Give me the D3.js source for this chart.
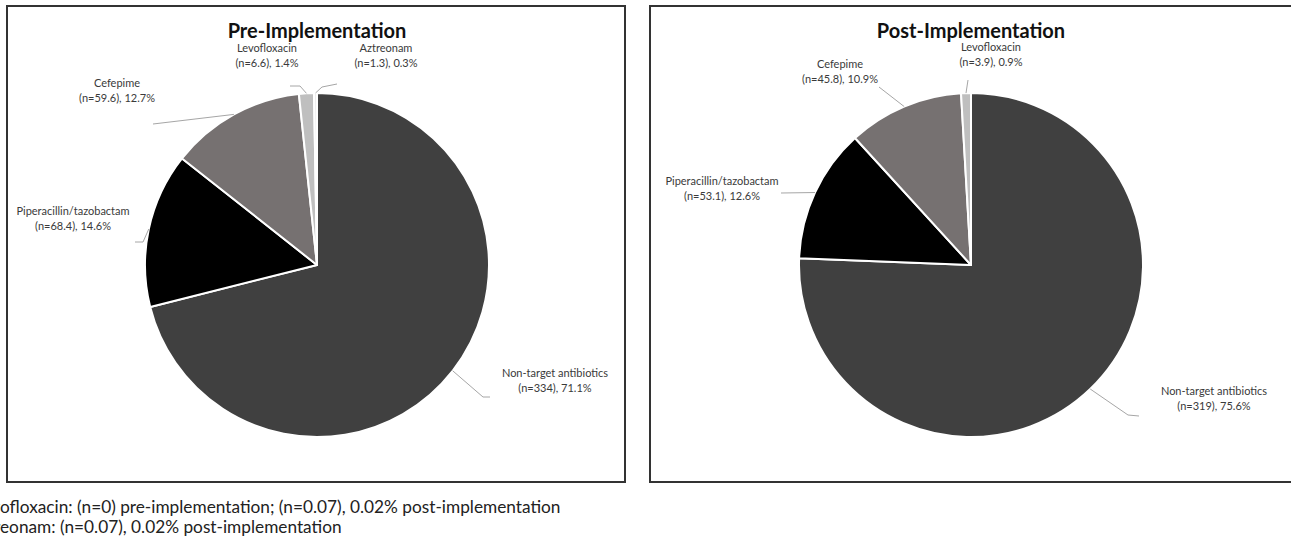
<!DOCTYPE html>
<html>
<head>
<meta charset="utf-8">
<script src="https://cdn.jsdelivr.net/npm/d3@7"></script>
<style>
  body { margin: 0; background: #fff; }
  svg { display: block; font-family: Lato, "Open Sans", sans-serif; }
</style>
</head>
<body>
<div id="chart"></div>
<script>
// data
var drugs = ["Non-target antibiotics", "Piperacillin/tazobactam", "Cefepime", "Levofloxacin", "Aztreonam"];
var preCounts = [334, 68.4, 59.6, 6.6, 1.3];
var prePct = [71.1, 14.6, 12.7, 1.4, 0.3];
var postCounts = [319, 53.1, 45.8, 3.9];
var postPct = [75.6, 12.6, 10.9, 0.9];
var titles = ["Pre-Implementation", "Post-Implementation"];
var footnotes = [
  "Levofloxacin: (n=0) pre-implementation; (n=0.07), 0.02% post-implementation",
  "Aztreonam: (n=0.07), 0.02% post-implementation"
];

var colors = ["#404040", "#000000", "#767171", "#bfbfbf", "#ececec"];

var width = 1291, height = 542;
var radius = 172;

var svg = d3.select("#chart").append("svg")
  .attr("width", width)
  .attr("height", height);

// label placement (relative to pie center): label center + leader polyline end points
var panels = [
  {
    title: titles[0], box: [7, 6, 618, 476], cx: 317, cy: 265,
    counts: preCounts, pct: prePct,
    labels: [
      { pos: [238, 115], leader: [[166, 132], [173, 132]] },
      { pos: [-244, -47], leader: [[-174, -23], [-182, -23]] },
      { pos: [-200, -175], leader: [[-164, -141]] },
      { pos: [-50, -210], leader: [[-17, -179], [-27, -179]] },
      { pos: [69, -210], leader: [[5, -178], [20, -181]] }
    ]
  },
  {
    title: titles[1], box: [650, 6, 660, 476], cx: 971, cy: 265,
    counts: postCounts, pct: postPct,
    labels: [
      { pos: [243, 133], leader: [[157, 150], [168, 151]] },
      { pos: [-249, -77], leader: [[-190, -72]] },
      { pos: [-131, -194], leader: [[-92, -178]] },
      { pos: [20, -211], leader: [[-3, -185]] }
    ]
  }
];

var pie = d3.pie().sort(null).value(function(d) { return d; });
var arc = d3.arc().innerRadius(0).outerRadius(radius);
var edge = d3.arc().innerRadius(radius).outerRadius(radius);

panels.forEach(function(p) {
  // khung
  svg.append("rect")
    .attr("x", p.box[0]).attr("y", p.box[1])
    .attr("width", p.box[2]).attr("height", p.box[3])
    .attr("fill", "none")
    .attr("stroke", "#333")
    .attr("stroke-width", 2);

  svg.append("text")
    .attr("x", p.cx).attr("y", 38)
    .attr("text-anchor", "middle")
    .style("font-size", "20px")
    .style("font-weight", "bold")
    .style("fill", "#111")
    .text(p.title);

  var g = svg.append("g")
    .attr("transform", "translate(" + p.cx + "," + p.cy + ")");

  var arcs = pie(p.counts);

  g.selectAll("path.slice")
    .data(arcs)
    .enter().append("path")
    .attr("class", "slice")
    .attr("d", arc)
    .attr("fill", function(d, i) { return colors[i]; })
    .attr("stroke", "#fff")
    .attr("stroke-width", 2)
    .attr("stroke-linejoin", "round");

  // leader lines
  g.selectAll("path.leader")
    .data(arcs)
    .enter().append("path")
    .attr("class", "leader")
    .attr("d", function(d, i) {
      var pts = [edge.centroid(d)].concat(p.labels[i].leader);
      return d3.line()(pts);
    })
    .attr("fill", "none")
    .attr("stroke", "#a6a6a6")
    .attr("stroke-width", 1);

  // labels
  var lab = g.selectAll("text.lab")
    .data(arcs)
    .enter().append("text")
    .attr("class", "lab")
    .attr("text-anchor", "middle")
    .attr("transform", function(d, i) {
      return "translate(" + p.labels[i].pos + ")";
    })
    .style("font-size", "11px")
    .style("fill", "#3a3a3a");

  lab.append("tspan")
    .attr("x", 0).attr("dy", "-0.3em")
    .text(function(d, i) { return drugs[i]; });
  lab.append("tspan")
    .attr("x", 0).attr("dy", "1.35em")
    .text(function(d, i) { return "(n=" + p.counts[i] + "), " + p.pct[i] + "%"; });
});

// footnotes, cut off on the left like the source
var cut = [3, 4];
var fnSize = 15.5;
// size the note so the visible part of line 1 ends where the source does (~561px)
var probe = svg.append("text").style("font-size", fnSize + "px").text(footnotes[0]);
var visible = probe.node().getComputedTextLength() - probe.node().getSubStringLength(0, cut[0]);
probe.remove();
fnSize = fnSize * 561 / visible;

footnotes.forEach(function(t, i) {
  var txt = svg.append("text")
    .attr("y", 513 + i * 20)
    .style("font-size", fnSize + "px")
    .style("fill", "#222")
    .text(t);
  var shift = txt.node().getSubStringLength(0, cut[i]);
  txt.attr("x", -shift);
});
</script>
</body>
</html>
